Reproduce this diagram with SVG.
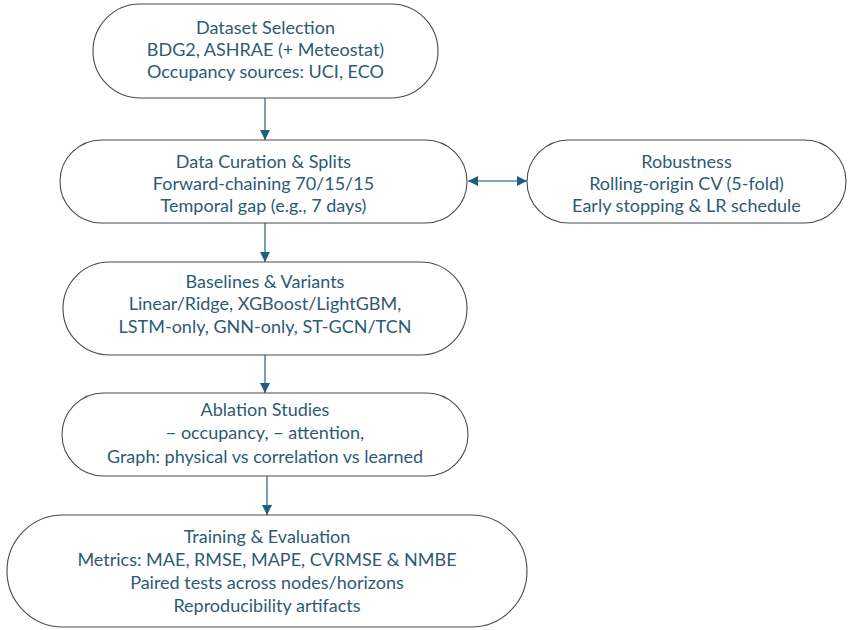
<svg xmlns="http://www.w3.org/2000/svg" width="848" height="630" viewBox="0 0 848 630">
<defs>
<style>
.node{fill:#ffffff;stroke:#4a4a4a;stroke-width:1.1}
.t{font-family:Lato,"Open Sans","Liberation Sans",sans-serif;font-size:18px;fill:#2d5b74;text-anchor:middle}
.c{stroke:#5b87a3;stroke-width:1.6;fill:none}
</style>
<marker id="ah" viewBox="0 0 10 10" refX="10" refY="5" markerWidth="10" markerHeight="10" markerUnits="userSpaceOnUse" orient="auto-start-reverse">
<path d="M0,0 L10,5 L0,10 Z" fill="#1f5f80"/>
</marker>
</defs>
<rect width="848" height="630" fill="#ffffff"/>
<g id="connectors">
<line class="c" x1="265" y1="98" x2="265" y2="140" marker-end="url(#ah)"/>
<line class="c" x1="265" y1="223" x2="265" y2="262" marker-end="url(#ah)"/>
<line class="c" x1="265" y1="355" x2="265" y2="393" marker-end="url(#ah)"/>
<line class="c" x1="267" y1="476" x2="267" y2="515" marker-end="url(#ah)"/>
<line class="c" x1="468" y1="181" x2="527" y2="181" marker-start="url(#ah)" marker-end="url(#ah)"/>
</g>
<g id="n1">
<rect class="node" x="93" y="4" width="345" height="94" rx="47"/>
<text class="t" x="265.5" y="34">Dataset Selection</text>
<text class="t" x="265.5" y="56">BDG2, ASHRAE (+ Meteostat)</text>
<text class="t" x="265.5" y="78">Occupancy sources: UCI, ECO</text>
</g>
<g id="n2">
<rect class="node" x="60" y="140" width="407" height="83" rx="41.5"/>
<text class="t" x="263.5" y="168">Data Curation &amp; Splits</text>
<text class="t" x="263.5" y="190">Forward-chaining 70/15/15</text>
<text class="t" x="263.5" y="212">Temporal gap (e.g., 7 days)</text>
</g>
<g id="n6">
<rect class="node" x="527" y="140" width="319" height="83" rx="41.5"/>
<text class="t" x="686.5" y="168">Robustness</text>
<text class="t" x="686.5" y="190">Rolling-origin CV (5-fold)</text>
<text class="t" x="686.5" y="212">Early stopping &amp; LR schedule</text>
</g>
<g id="n3">
<rect class="node" x="63" y="262" width="404" height="93" rx="46.5"/>
<text class="t" x="265" y="288">Baselines &amp; Variants</text>
<text class="t" x="265" y="310">Linear/Ridge, XGBoost/LightGBM,</text>
<text class="t" x="265" y="333">LSTM-only, GNN-only, ST-GCN/TCN</text>
</g>
<g id="n4">
<rect class="node" x="62" y="393" width="406" height="83" rx="41.5"/>
<text class="t" x="265" y="416">Ablation Studies</text>
<text class="t" x="265" y="439">− occupancy, − attention,</text>
<text class="t" x="265" y="463">Graph: physical vs correlation vs learned</text>
</g>
<g id="n5">
<rect class="node" x="7" y="515" width="520" height="112" rx="56"/>
<text class="t" x="267" y="543">Training &amp; Evaluation</text>
<text class="t" x="267" y="566">Metrics: MAE, RMSE, MAPE, CVRMSE &amp; NMBE</text>
<text class="t" x="267" y="589">Paired tests across nodes/horizons</text>
<text class="t" x="267" y="612">Reproducibility artifacts</text>
</g>
</svg>
